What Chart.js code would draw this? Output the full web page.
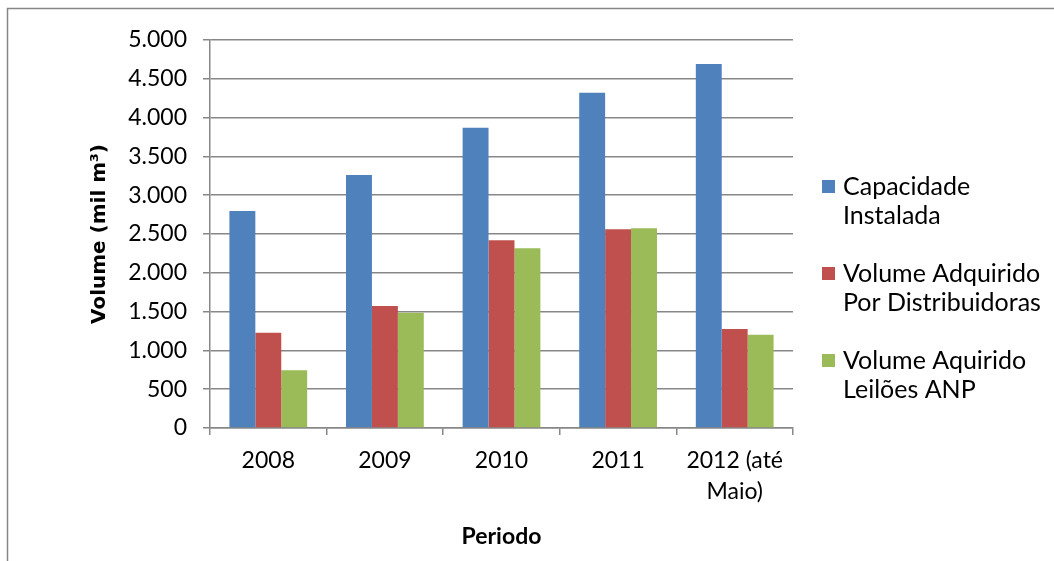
<!DOCTYPE html>
<html>
<head>
<meta charset="utf-8">
<script src="https://cdn.jsdelivr.net/npm/chart.js@4"></script>
<style>
  html, body { margin: 0; padding: 0; background: #fff; }
  #wrap { width: 1054px; height: 561px; position: relative; }
</style>
</head>
<body>
<div id="wrap"><canvas id="chart" width="1054" height="561"></canvas></div>
<script>
// Data
const periods = ['2008', '2009', '2010', '2011', ['2012 (até', 'Maio)']];
const capacidade = [2795, 3260, 3870, 4320, 4690];
const adquiridoDistribuidoras = [1228, 1572, 2420, 2562, 1276];
const aquiridoLeiloes = [743, 1486, 2315, 2575, 1203];
const seriesNames = [['Capacidade', 'Instalada'], ['Volume Adquirido', 'Por Distribuidoras'], ['Volume Aquirido', 'Leilões ANP']];
const seriesColors = ['#4F81BD', '#C0504D', '#9BBB59'];
const yTicks = [0, 500, 1000, 1500, 2000, 2500, 3000, 3500, 4000, 4500, 5000];

const gridColor = '#878787';
const labelFont = 'Lato';

// format 5000 -> 5.000
function fmt(v) {
  return String(v).replace(/\B(?=(\d{3})+(?!\d))/g, '.');
}

// frame + legend drawn on the canvas
const extras = {
  id: 'extras',
  afterDraw(chart) {
    const c = chart.ctx;
    c.save();
    c.strokeStyle = gridColor;
    c.lineWidth = 1.5;
    c.beginPath();
    c.moveTo(7.5, 561);
    c.lineTo(7.5, 8.5);
    c.lineTo(1054, 8.5);
    c.stroke();

    c.font = '25px ' + labelFont;
    c.fillStyle = '#000';
    c.textBaseline = 'middle';
    c.textAlign = 'left';
    const startY = 187, step = 87, lineGap = 29;
    seriesNames.forEach(function(lines, i) {
      const y = startY + i * step;
      c.fillStyle = seriesColors[i];
      c.fillRect(822, y - 7, 13, 13);
      c.fillStyle = '#000';
      lines.forEach(function(t, j) {
        c.fillText(t, 843, y + j * lineGap);
      });
    });
    c.restore();
  }
};

const ctx = document.getElementById('chart').getContext('2d');
new Chart(ctx, {
  type: 'bar',
  data: {
    labels: periods,
    datasets: [
      { label: 'Capacidade Instalada', data: capacidade, backgroundColor: seriesColors[0] },
      { label: 'Volume Adquirido Por Distribuidoras', data: adquiridoDistribuidoras, backgroundColor: seriesColors[1] },
      { label: 'Volume Aquirido Leilões ANP', data: aquiridoLeiloes, backgroundColor: seriesColors[2] }
    ]
  },
  options: {
    responsive: false,
    animation: false,
    layout: { padding: { left: 0, top: 40, right: 261, bottom: 0 } },
    datasets: { bar: { categoryPercentage: 0.667, barPercentage: 1.0 } },
    plugins: {
      legend: { display: false },
      tooltip: { enabled: false }
    },
    scales: {
      x: {
        afterFit: function(scale) { scale.height = 133; },
        grid: { drawOnChartArea: false, drawTicks: true, tickLength: 7, color: gridColor, lineWidth: 1.5, offset: true },
        border: { color: gridColor, width: 1.5 },
        ticks: { color: '#000', font: { family: labelFont, size: 23, lineHeight: 1.35 }, padding: 10, maxRotation: 0 },
        title: { display: true, text: 'Periodo', color: '#000', font: { family: labelFont, size: 23, weight: 'bold' }, padding: { top: 0, bottom: 11 } }
      },
      y: {
        min: 0,
        max: 5000,
        afterFit: function(scale) { scale.width = 210; },
        afterBuildTicks: function(scale) { scale.ticks = yTicks.map(function(v) { return { value: v }; }); },
        grid: { color: gridColor, lineWidth: 1.5, tickLength: 7 },
        border: { color: gridColor, width: 1.5 },
        ticks: { color: '#000', font: { family: labelFont, size: 23 }, padding: 16, callback: function(v) { return fmt(v); } },
        title: { display: true, text: 'Volume (mil m³)', color: '#000', font: { family: 'DejaVu Sans', size: 20, weight: 'bold' }, padding: { top: 88, bottom: 0 } }
      }
    }
  },
  plugins: [extras]
});
</script>
</body>
</html>
